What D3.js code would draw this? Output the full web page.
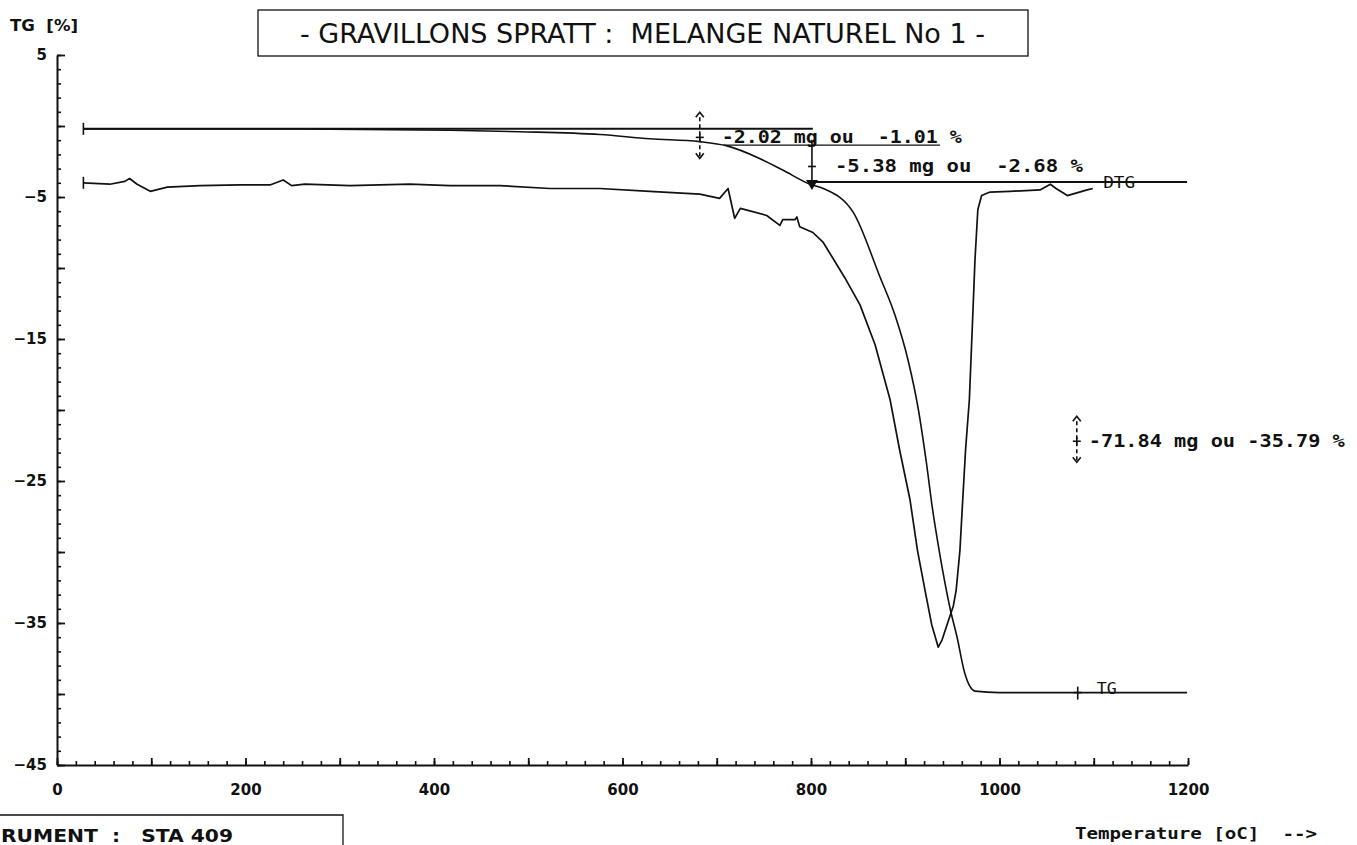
<!DOCTYPE html>
<html><head><meta charset="utf-8">
<script src="https://cdn.jsdelivr.net/npm/d3@7"></script>
<style>
html,body{margin:0;padding:0;background:#fff;overflow:hidden;}
svg{display:block;}
svg text{white-space:pre;}
</style></head>
<body>
<svg id="chart" width="1357" height="845"></svg>
<script>
// ---------- data ----------
const titleText = "- GRAVILLONS SPRATT :  MELANGE NATUREL No 1 -";
const yAxisTitle = "TG  [%]";
const xAxisTitle = "Temperature [oC]  -->";
const instrumentText = "RUMENT  :   STA 409";

const xMajorTicks = [0, 100, 200, 300, 400, 500, 600, 700, 800, 900, 1000, 1100, 1200];
const xTickLabels = [0, 200, 400, 600, 800, 1000, 1200];
const yMajorTicks = [5, 0, -5, -10, -15, -20, -25, -30, -35, -40, -45];
const yTickLabels = [5, -5, -15, -25, -35, -45];

// TG curve (temperature oC, TG %)
const tgTemp  = [28, 258, 417, 491, 576, 629, 682, 711, 746, 770, 799, 813, 845, 873, 889, 903, 914, 922, 929, 936, 948, 955, 963, 969, 974, 1000, 1083, 1199];
const tgValue = [-0.2, -0.2, -0.3, -0.4, -0.6, -0.9, -1.1, -1.4, -2.3, -3.1, -4.1, -4.4, -6.1, -10.6, -13.3, -16.5, -20.0, -23.5, -27.0, -29.9, -34.1, -36.0, -38.5, -39.5, -39.8, -39.9, -39.9, -39.9];

// DTG curve (temperature oC, plotted on the same vertical scale)
const dtgTemp  = [28, 56, 72, 77, 85, 99, 117, 152, 194, 226, 240, 249, 263, 311, 374, 417, 470, 523, 576, 629, 682, 703, 712, 719, 725, 753, 767, 770, 783, 785, 788, 802, 813, 836, 852, 868, 884, 894, 905, 913, 921, 928, 935, 939, 947, 951, 954, 958, 961, 964, 968, 971, 974, 977, 981, 990, 1011, 1043, 1054, 1060, 1072, 1093, 1099];
const dtgValue = [-4.0, -4.1, -3.9, -3.7, -4.1, -4.6, -4.3, -4.2, -4.15, -4.15, -3.8, -4.2, -4.1, -4.2, -4.1, -4.2, -4.2, -4.4, -4.4, -4.6, -4.8, -5.1, -4.4, -6.5, -5.8, -6.3, -7.0, -6.6, -6.6, -6.4, -7.1, -7.5, -8.2, -10.7, -12.6, -15.4, -19.3, -22.8, -26.3, -29.9, -32.7, -35.1, -36.7, -36.2, -34.6, -33.8, -32.7, -29.9, -26.3, -22.8, -19.3, -14.4, -9.4, -5.9, -4.9, -4.65, -4.6, -4.5, -4.1, -4.4, -4.9, -4.5, -4.4];

// horizontal level lines: [tStart, tEnd, value]
const levelStart = [28, 707, 800];
const levelEnd   = [802, 937, 1199];
const levelValue = [-0.2, -1.35, -3.95];

// step annotations
const stepTemp  = [682, 801, 1082];
const stepValue = [-0.8, -2.85, -22.2];
const stepText  = ["-2.02 mg ou  -1.01 %", "-5.38 mg ou  -2.68 %", "-71.84 mg ou -35.79 %"];
const stepKind  = ["double", "arrow", "double"];

// ---------- drawing ----------
const svg = d3.select("#chart");
const x = d3.scaleLinear().domain([0, 1200]).range([57, 1188]);
const y = d3.scaleLinear().domain([5, -45]).range([55, 765]);
const ink = "#111";
const monoFont = "'DejaVu Sans Mono', 'Liberation Mono', monospace";
const sansFont = "'DejaVu Sans', 'Liberation Sans', sans-serif";

// Title box
svg.append("rect").attr("x", 258).attr("y", 10).attr("width", 770).attr("height", 46)
  .attr("fill", "none").attr("stroke", ink).attr("stroke-width", 1.3);
svg.append("text").attr("x", 300).attr("y", 43)
  .attr("textLength", 685).attr("lengthAdjust", "spacingAndGlyphs")
  .style("font-family", "'DejaVu Sans Condensed', 'Liberation Sans Narrow', sans-serif")
  .style("font-stretch", "condensed")
  .style("font-size", "26px").attr("fill", ink).text(titleText);

// Y axis title
svg.append("text").attr("x", 10).attr("y", 31)
  .attr("textLength", 68).attr("lengthAdjust", "spacingAndGlyphs")
  .style("font-family", sansFont).style("font-weight", "bold")
  .style("font-size", "15px").attr("fill", ink).text(yAxisTitle);

// Y axis: minor and major ticks (inward)
const yMinor = d3.range(5, -45.5, -1);
svg.append("g").attr("transform", `translate(${x(0)},0)`)
  .call(d3.axisLeft(y).tickValues(yMinor).tickSizeInner(-4).tickSizeOuter(0).tickFormat(""))
  .call(g => g.selectAll("line").attr("stroke", ink).attr("stroke-width", 1.6))
  .call(g => g.select(".domain").attr("stroke", ink).attr("stroke-width", 2));
svg.append("g").attr("transform", `translate(${x(0)},0)`)
  .call(d3.axisLeft(y).tickValues(yMajorTicks).tickSizeInner(-8).tickSizeOuter(0).tickPadding(10)
        .tickFormat(d => yTickLabels.includes(d) ? d3.format("")(d) : ""))
  .call(g => g.select(".domain").remove())
  .call(g => g.selectAll("line").attr("stroke", ink).attr("stroke-width", 1.8))
  .call(g => g.selectAll("text").attr("fill", ink)
        .style("font-family", sansFont).style("font-weight", "bold").style("font-size", "15px"));

// X axis: minor and major ticks (inward)
const xMinor = d3.range(0, 1201, 20);
svg.append("g").attr("transform", `translate(0,${y(-45)})`)
  .call(d3.axisBottom(x).tickValues(xMinor).tickSizeInner(-4).tickSizeOuter(0).tickFormat(""))
  .call(g => g.selectAll("line").attr("stroke", ink).attr("stroke-width", 1.6))
  .call(g => g.select(".domain").attr("stroke", ink).attr("stroke-width", 2));
svg.append("g").attr("transform", `translate(0,${y(-45)})`)
  .call(d3.axisBottom(x).tickValues(xMajorTicks).tickSizeInner(-7).tickSizeOuter(0).tickPadding(19)
        .tickFormat(d => xTickLabels.includes(d) ? d3.format("")(d) : ""))
  .call(g => g.select(".domain").remove())
  .call(g => g.selectAll("line").attr("stroke", ink).attr("stroke-width", 1.8))
  .call(g => g.selectAll("text").attr("fill", ink)
        .style("font-family", sansFont).style("font-weight", "bold").style("font-size", "15px"));

// X axis title
svg.append("text").attr("x", 1075).attr("y", 839)
  .attr("textLength", 242).attr("lengthAdjust", "spacingAndGlyphs")
  .style("font-family", monoFont).style("font-weight", "bold")
  .style("font-size", "15px").attr("fill", ink).text(xAxisTitle);

// Instrument box (partially outside the page at the left)
svg.append("path").attr("d", "M0,815 H343 V845")
  .attr("fill", "none").attr("stroke", ink).attr("stroke-width", 1.3);
svg.append("text").attr("x", 1).attr("y", 842)
  .attr("textLength", 232).attr("lengthAdjust", "spacingAndGlyphs")
  .style("font-family", sansFont).style("font-weight", "bold")
  .style("font-size", "17px").attr("fill", ink).text(instrumentText);

// Level lines
levelStart.forEach((s, i) => {
  svg.append("line").attr("x1", x(s)).attr("x2", x(levelEnd[i]))
    .attr("y1", y(levelValue[i])).attr("y2", y(levelValue[i]))
    .attr("stroke", ink).attr("stroke-width", i === 1 ? 1.3 : 2);
});

// Curves
const tgLine = d3.line().x(d => x(d[0])).y(d => y(d[1])).curve(d3.curveMonotoneX);
const dtgLine = d3.line().x(d => x(d[0])).y(d => y(d[1])).curve(d3.curveLinear);
const tgData = tgTemp.map((t, i) => [t, tgValue[i]]);
const dtgData = dtgTemp.map((t, i) => [t, dtgValue[i]]);
svg.append("path").datum(tgData).attr("d", tgLine)
  .attr("fill", "none").attr("stroke", ink).attr("stroke-width", 1.6).attr("stroke-linejoin", "round");
svg.append("path").datum(dtgData).attr("d", dtgLine)
  .attr("fill", "none").attr("stroke", ink).attr("stroke-width", 1.7).attr("stroke-linejoin", "round");

// Start caps
[tgData[0], dtgData[0]].forEach(p => {
  svg.append("line").attr("x1", x(p[0])).attr("x2", x(p[0]))
    .attr("y1", y(p[1]) - 6).attr("y2", y(p[1]) + 6).attr("stroke", ink).attr("stroke-width", 1.6);
});

// Curve labels
const tgEnd = tgData[tgData.length - 2];
svg.append("line").attr("x1", x(tgEnd[0])).attr("x2", x(tgEnd[0]))
  .attr("y1", y(tgEnd[1]) - 6).attr("y2", y(tgEnd[1]) + 7).attr("stroke", ink).attr("stroke-width", 1.6);
svg.append("line").attr("x1", x(tgEnd[0]) - 4).attr("x2", x(tgEnd[0]) + 4)
  .attr("y1", y(tgEnd[1])).attr("y2", y(tgEnd[1])).attr("stroke", ink).attr("stroke-width", 1.6);
svg.append("text").attr("x", x(tgEnd[0]) + 19).attr("y", y(tgEnd[1]) + 1)
  .attr("textLength", 20).attr("lengthAdjust", "spacingAndGlyphs")
  .style("font-family", monoFont).style("font-size", "15px").attr("fill", ink).text("TG");
svg.append("text").attr("x", x(1110)).attr("y", y(levelValue[2]) + 6)
  .attr("textLength", 32).attr("lengthAdjust", "spacingAndGlyphs")
  .style("font-family", monoFont).style("font-size", "15px").attr("fill", ink).text("DTG");

// Step annotations
stepTemp.forEach((t, i) => {
  const cx = x(t), cy = y(stepValue[i]);
  const g = svg.append("g").attr("stroke", ink).attr("fill", "none").attr("stroke-width", 1.6);
  if (stepKind[i] === "double") {
    g.append("line").attr("x1", cx).attr("x2", cx).attr("y1", cy - 20).attr("y2", cy + 19)
      .attr("stroke-dasharray", "4,3");
    g.append("path").attr("d", `M${cx-4},${cy-20} L${cx},${cy-25} L${cx+4},${cy-20}`);
    g.append("path").attr("d", `M${cx-4},${cy+16} L${cx},${cy+21} L${cx+4},${cy+16}`);
    g.append("line").attr("x1", cx - 4).attr("x2", cx + 4).attr("y1", cy).attr("y2", cy);
    g.append("line").attr("x1", cx).attr("x2", cx).attr("y1", cy - 4).attr("y2", cy + 4);
  } else {
    g.append("line").attr("x1", cx).attr("x2", cx).attr("y1", y(levelValue[0]) + 11).attr("y2", y(levelValue[2]));
    g.append("line").attr("x1", cx - 4).attr("x2", cx + 4).attr("y1", cy).attr("y2", cy);
    svg.append("path").attr("d", `M${cx-6},${y(levelValue[2])-2} L${cx},${y(levelValue[2])+8} L${cx+6},${y(levelValue[2])-2} Z`)
      .attr("fill", ink);
  }
  const widths = [240, 248, 256];
  const offs = [22, 23, 12];
  svg.append("text").attr("x", cx + offs[i]).attr("y", cy + 6)
    .attr("textLength", widths[i]).attr("lengthAdjust", "spacingAndGlyphs")
    .style("font-family", monoFont).style("font-weight", "bold")
    .style("font-size", "17px").attr("fill", ink).text(stepText[i]);
});
</script>
</body></html>
